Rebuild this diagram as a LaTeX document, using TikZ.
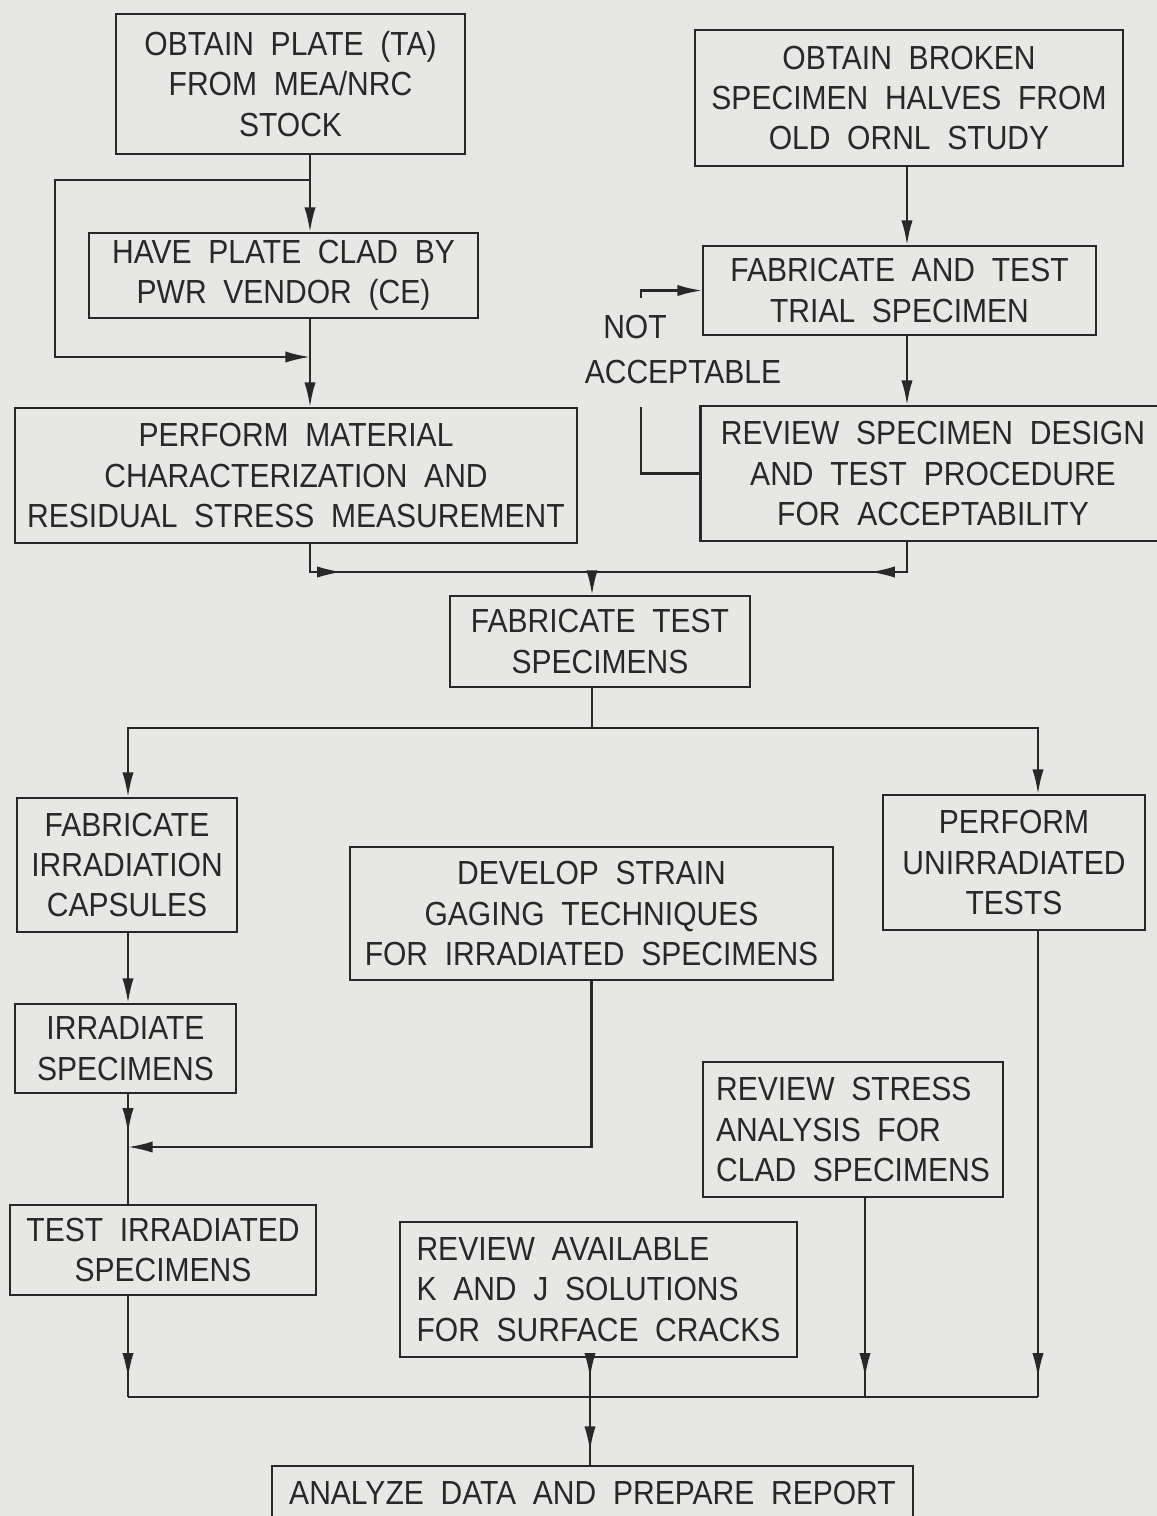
\documentclass[tikz,border=0pt]{standalone}
\usepackage{fontspec}
\setmainfont[FakeStretch=0.9,WordSpace=2]{Liberation Sans}
\usetikzlibrary{arrows.meta,decorations.markings}
\definecolor{ink}{RGB}{40,40,40}
\definecolor{paper}{RGB}{231,231,229}

\begin{document}
\begin{tikzpicture}[x=0.02cm,y=-0.02cm,line width=1.2pt,ink,
  >={Latex[length=14pt,width=6.4pt]},
  blk/.style={draw=ink,text=ink,align=center,inner sep=0pt,font=\fontsize{19}{23}\selectfont},
  lbl/.style={text=ink,inner sep=0pt,font=\fontsize{19}{23}\selectfont},
  tipat/.style={postaction={decorate},decoration={markings,mark=at position #1 with {\arrow{>}}}}]
\fill[paper] (0,0) rectangle (1157,1516);
\useasboundingbox (0,0) rectangle (1157,1516);

\node (PL) [blk,minimum width=6.98cm,minimum height=2.8cm] at (290.5,84) {OBTAIN PLATE (TA)\\FROM MEA/NRC\\STOCK};
\node (BR) [blk,minimum width=8.56cm,minimum height=2.72cm] at (909,98) {OBTAIN BROKEN\\SPECIMEN HALVES FROM\\OLD ORNL STUDY};
\node (CL) [blk,minimum width=7.78cm,minimum height=1.7cm] at (283.5,275.5) {HAVE PLATE CLAD BY\\PWR VENDOR (CE)};
\node (TR) [blk,minimum width=7.86cm,minimum height=1.78cm] at (899.5,290.5) {FABRICATE AND TEST\\TRIAL SPECIMEN};
\node (CH) [blk,minimum width=11.24cm,minimum height=2.7cm] at (296,475.5) {PERFORM MATERIAL\\CHARACTERIZATION AND\\RESIDUAL STRESS MEASUREMENT};
\node (RV) [blk,minimum width=9.3cm,minimum height=2.7cm] at (933,473.5) {REVIEW SPECIMEN DESIGN\\AND TEST PROCEDURE\\FOR ACCEPTABILITY};
\node (NOT) [lbl] at (635,327) {NOT};
\node (ACC) [lbl] at (683,372) {ACCEPTABLE};
\node (FT) [blk,minimum width=6cm,minimum height=1.82cm] at (600,641.5) {FABRICATE TEST\\SPECIMENS};
\node (CP) [blk,minimum width=4.4cm,minimum height=2.68cm] at (127,865) {FABRICATE\\IRRADIATION\\CAPSULES};
\node (SG) [blk,minimum width=9.66cm,minimum height=2.66cm] at (591.5,913.5) {DEVELOP STRAIN\\GAGING TECHNIQUES\\FOR IRRADIATED SPECIMENS};
\node (UN) [blk,minimum width=5.24cm,minimum height=2.7cm] at (1014,862.5) {PERFORM\\UNIRRADIATED\\TESTS};
\node (IR) [blk,minimum width=4.42cm,minimum height=1.78cm] at (125.5,1048.5) {IRRADIATE\\SPECIMENS};
\node (SR) [blk,align=left,minimum width=6cm,minimum height=2.7cm] at (853,1129.5) {REVIEW STRESS\\ANALYSIS FOR\\CLAD SPECIMENS};
\node (TI) [blk,minimum width=6.12cm,minimum height=1.8cm] at (163,1250) {TEST IRRADIATED\\SPECIMENS};
\node (KJ) [blk,align=left,minimum width=7.94cm,minimum height=2.7cm] at (598.5,1289.5) {REVIEW AVAILABLE\\K AND J SOLUTIONS\\FOR SURFACE CRACKS};
\node (RP) [blk,minimum width=12.82cm,minimum height=1.08cm] at (592.5,1493) {ANALYZE DATA AND PREPARE REPORT};

\coordinate (spine) at (310,180);
\coordinate (byL) at (55,180);
\coordinate (byJ) at (310,357);
\coordinate (rsp) at (907,572);
\coordinate (mg) at (592,572);
\coordinate (naB) at (641,407);
\coordinate (naT) at (641,298);
\coordinate (fk) at (592,728);
\coordinate (unx) at (1038,728);
\coordinate (lsp) at (128,1147);
\coordinate (stx) at (865,1397);
\coordinate (bus) at (590,1397);

\draw[->] (spine |- PL.south) -- (spine |- CL.north);
\draw[->] (spine) -- (byL) |- (byJ);
\draw[->] (spine |- CL.south) -- (spine |- CH.north);
\draw[->] (rsp |- BR.south) -- (rsp |- TR.north);
\draw[->] (rsp |- TR.south) -- (rsp |- RV.north);
\draw (RV.west) -| (naB);
\draw[->] (naT) |- (TR.west);
\draw[tipat=34pt] (spine |- CH.south) |- (mg);
\draw[tipat=38pt] (rsp |- RV.south) |- (mg);
\draw[->] (mg) -- (mg |- FT.north);
\draw (mg |- FT.south) -- (fk);
\draw[->] (fk) -| (lsp |- CP.north);
\draw[->] (fk) -| (unx |- UN.north);
\draw[->] (lsp |- CP.south) -- (lsp |- IR.north);
\draw[tipat=22pt] (lsp |- IR.south) -- (lsp |- TI.north);
\draw[->] (SG.south) |- (lsp);
\draw[tipat=-11pt] (lsp |- TI.south) -- (lsp |- bus);
\draw (lsp |- bus) -- (unx |- bus);
\draw[tipat=-11pt] (stx |- SR.south) -- (stx);
\draw[tipat=-11pt] (unx |- UN.south) -- (unx |- bus);
\draw[tipat=-11pt] (bus |- KJ.south) -- (bus);
\draw[tipat=-8pt] (bus) -- (bus |- RP.north);
\end{tikzpicture}
\end{document}
